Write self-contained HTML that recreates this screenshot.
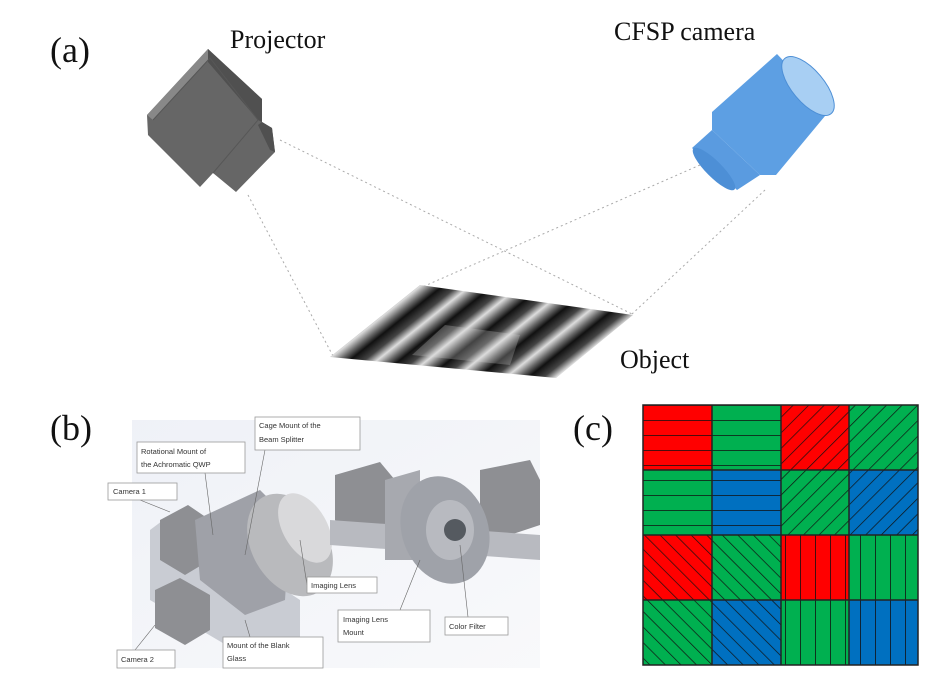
<!DOCTYPE html>
<html><head><meta charset="utf-8"><style>
html,body{margin:0;padding:0;background:#fff;}
svg{display:block;}
.t{font-family:"Liberation Serif",serif;fill:#111;}
.l{font-family:"Liberation Sans",sans-serif;font-size:7.5px;fill:#333;}
.b{fill:#fff;stroke:#999;stroke-width:0.8;}
</style></head><body>
<svg width="952" height="695" viewBox="0 0 952 695" xmlns="http://www.w3.org/2000/svg">
<defs>
<linearGradient id="stripe" x1="0" y1="0" x2="19.5" y2="24.4" gradientUnits="userSpaceOnUse" spreadMethod="repeat">
<stop offset="0" stop-color="#111"/><stop offset="0.3" stop-color="#444"/><stop offset="0.55" stop-color="#ddd"/><stop offset="0.8" stop-color="#666"/><stop offset="1" stop-color="#111"/>
</linearGradient>
<pattern id="ph" width="20" height="15" patternUnits="userSpaceOnUse" y="405"><line x1="0" y1="0" x2="20" y2="0" stroke="#111" stroke-width="1.6"/></pattern>
<pattern id="pv" width="15" height="20" patternUnits="userSpaceOnUse" x="650"><line x1="0" y1="0" x2="0" y2="20" stroke="#111" stroke-width="1.6"/></pattern>
<pattern id="pd1" width="11" height="20" patternUnits="userSpaceOnUse" patternTransform="rotate(45)"><line x1="0" y1="0" x2="0" y2="20" stroke="#111" stroke-width="1.4"/></pattern>
<pattern id="pd2" width="11" height="20" patternUnits="userSpaceOnUse" patternTransform="rotate(-45)"><line x1="0" y1="0" x2="0" y2="20" stroke="#111" stroke-width="1.4"/></pattern>
<linearGradient id="bg1" x1="0" y1="0" x2="1" y2="1"><stop offset="0" stop-color="#e4e8f2"/><stop offset="1" stop-color="#f4f5f8"/></linearGradient>
</defs>

<text class="t" x="50" y="62" font-size="36">(a)</text>
<text class="t" x="230" y="48" font-size="26">Projector</text>
<text class="t" x="614" y="40" font-size="26">CFSP camera</text>
<text class="t" x="620" y="368" font-size="26">Object</text>

<g stroke="#aaa" stroke-width="1" stroke-dasharray="2,3" fill="none">
<line x1="280" y1="140" x2="632" y2="314"/>
<line x1="248" y1="195" x2="333" y2="356"/>
<line x1="700" y1="165" x2="420" y2="288"/>
<line x1="765" y1="190" x2="632" y2="314"/>
</g>

<!-- projector -->
<polygon points="147,115 208,49 262,99 262,122 272,128 275,152 236,192 213,173 200,187 148,135" fill="#666"/>
<polygon points="147,115 208,49 213,54 153,120" fill="#888"/>
<polygon points="208,49 262,99 262,122 258,120 208,62" fill="#505050"/>
<polygon points="262,122 272,128 275,152 270,150 258,125" fill="#505050"/>
<polyline points="153,120 210,58 258,120 213,173" fill="none" stroke="#575757" stroke-width="1"/>

<!-- camera -->
<polygon points="692,148 712,130 760,175 737,190" fill="#5a9be0"/>
<ellipse cx="714" cy="169" rx="8" ry="29" transform="rotate(-45 714 169)" fill="#4d8fd6"/>
<polygon points="777,54 712,112 712,130 760,175 776,175 830,110" fill="#5d9fe3"/>
<ellipse cx="808" cy="86" rx="16" ry="36" transform="rotate(-40 808 86)" fill="#a8cff3" stroke="#4d8fd6" stroke-width="1"/>

<!-- object -->
<polygon points="330,357 420,285 633,315 556,378" fill="url(#stripe)"/>
<polygon points="412,355 445,325 520,335 510,365" fill="#ddd" opacity="0.25"/>

<!-- (b) -->
<text class="t" x="50" y="440" font-size="36">(b)</text>
<rect x="132" y="420" width="408" height="248" fill="url(#bg1)" opacity="0.6"/>
<g>
<polygon points="150,530 170,515 300,600 300,640 260,665 150,600" fill="#c9ccd3"/>
<polygon points="160,520 188,505 210,520 210,560 185,575 160,560" fill="#8e8f93"/>
<polygon points="155,590 180,578 210,595 210,630 185,645 155,628" fill="#8e8f93"/>
<polygon points="195,520 260,490 290,520 285,600 245,615 200,580" fill="#9fa1a8"/>
<ellipse cx="290" cy="545" rx="38" ry="55" fill="#b9babd" transform="rotate(-30 290 545)"/>
<ellipse cx="305" cy="528" rx="22" ry="38" fill="#d9d9db" transform="rotate(-30 305 528)"/>
<polygon points="335,475 380,462 395,480 395,525 350,540 335,520" fill="#8e8f93"/>
<polygon points="480,470 530,460 540,480 540,525 495,540 480,520" fill="#8e8f93"/>
<polygon points="330,520 540,535 540,560 330,545" fill="#b8bac0"/>
<polygon points="385,480 420,470 420,560 385,560" fill="#a7a9af"/>
<ellipse cx="445" cy="530" rx="43" ry="55" fill="#9fa2a9" transform="rotate(-20 445 530)"/>
<ellipse cx="450" cy="530" rx="24" ry="30" fill="#b8bac0"/>
<circle cx="455" cy="530" r="11" fill="#555a60"/>
</g>
<g stroke="#666" stroke-width="0.6">
<line x1="205" y1="473" x2="213" y2="535"/>
<line x1="265" y1="450" x2="245" y2="555"/>
<line x1="140" y1="500" x2="170" y2="512"/>
<line x1="307" y1="585" x2="300" y2="540"/>
<line x1="250" y1="637" x2="245" y2="620"/>
<line x1="135" y1="650" x2="155" y2="625"/>
<line x1="400" y1="610" x2="420" y2="560"/>
<line x1="468" y1="617" x2="460" y2="545"/>
</g>
<rect class="b" x="255" y="417" width="105" height="33"/>
<text class="l" x="259" y="428">Cage Mount of the</text><text class="l" x="259" y="442">Beam Splitter</text>
<rect class="b" x="137" y="442" width="108" height="31"/>
<text class="l" x="141" y="454">Rotational Mount of</text><text class="l" x="141" y="467">the Achromatic QWP</text>
<rect class="b" x="108" y="483" width="69" height="17"/>
<text class="l" x="113" y="494">Camera 1</text>
<rect class="b" x="307" y="577" width="70" height="16"/>
<text class="l" x="311" y="588">Imaging Lens</text>
<rect class="b" x="338" y="610" width="92" height="32"/>
<text class="l" x="343" y="622">Imaging Lens</text><text class="l" x="343" y="635">Mount</text>
<rect class="b" x="445" y="617" width="63" height="18"/>
<text class="l" x="449" y="629">Color Filter</text>
<rect class="b" x="223" y="637" width="100" height="31"/>
<text class="l" x="227" y="648">Mount of the Blank</text><text class="l" x="227" y="661">Glass</text>
<rect class="b" x="117" y="650" width="58" height="18"/>
<text class="l" x="121" y="662">Camera 2</text>

<!-- (c) -->
<text class="t" x="573" y="440" font-size="36">(c)</text>
<g>
<rect x="643" y="405" width="69" height="65" fill="#f00"/><rect x="643" y="405" width="69" height="65" fill="url(#ph)"/>
<rect x="712" y="405" width="69" height="65" fill="#00b050"/><rect x="712" y="405" width="69" height="65" fill="url(#ph)"/>
<rect x="781" y="405" width="68" height="65" fill="#f00"/><rect x="781" y="405" width="68" height="65" fill="url(#pd1)"/>
<rect x="849" y="405" width="69" height="65" fill="#00b050"/><rect x="849" y="405" width="69" height="65" fill="url(#pd1)"/>

<rect x="643" y="470" width="69" height="65" fill="#00b050"/><rect x="643" y="470" width="69" height="65" fill="url(#ph)"/>
<rect x="712" y="470" width="69" height="65" fill="#0070c0"/><rect x="712" y="470" width="69" height="65" fill="url(#ph)"/>
<rect x="781" y="470" width="68" height="65" fill="#00b050"/><rect x="781" y="470" width="68" height="65" fill="url(#pd1)"/>
<rect x="849" y="470" width="69" height="65" fill="#0070c0"/><rect x="849" y="470" width="69" height="65" fill="url(#pd1)"/>

<rect x="643" y="535" width="69" height="65" fill="#f00"/><rect x="643" y="535" width="69" height="65" fill="url(#pd2)"/>
<rect x="712" y="535" width="69" height="65" fill="#00b050"/><rect x="712" y="535" width="69" height="65" fill="url(#pd2)"/>
<rect x="781" y="535" width="68" height="65" fill="#f00"/><rect x="781" y="535" width="68" height="65" fill="url(#pv)"/>
<rect x="849" y="535" width="69" height="65" fill="#00b050"/><rect x="849" y="535" width="69" height="65" fill="url(#pv)"/>

<rect x="643" y="600" width="69" height="65" fill="#00b050"/><rect x="643" y="600" width="69" height="65" fill="url(#pd2)"/>
<rect x="712" y="600" width="69" height="65" fill="#0070c0"/><rect x="712" y="600" width="69" height="65" fill="url(#pd2)"/>
<rect x="781" y="600" width="68" height="65" fill="#00b050"/><rect x="781" y="600" width="68" height="65" fill="url(#pv)"/>
<rect x="849" y="600" width="69" height="65" fill="#0070c0"/><rect x="849" y="600" width="69" height="65" fill="url(#pv)"/>
</g>
<g stroke="#222" stroke-width="1.5" fill="none">
<rect x="643" y="405" width="275" height="260"/>
<line x1="712" y1="405" x2="712" y2="665"/><line x1="781" y1="405" x2="781" y2="665"/><line x1="849" y1="405" x2="849" y2="665"/>
<line x1="643" y1="470" x2="918" y2="470"/><line x1="643" y1="535" x2="918" y2="535"/><line x1="643" y1="600" x2="918" y2="600"/>
</g>
</svg>
</body></html>
